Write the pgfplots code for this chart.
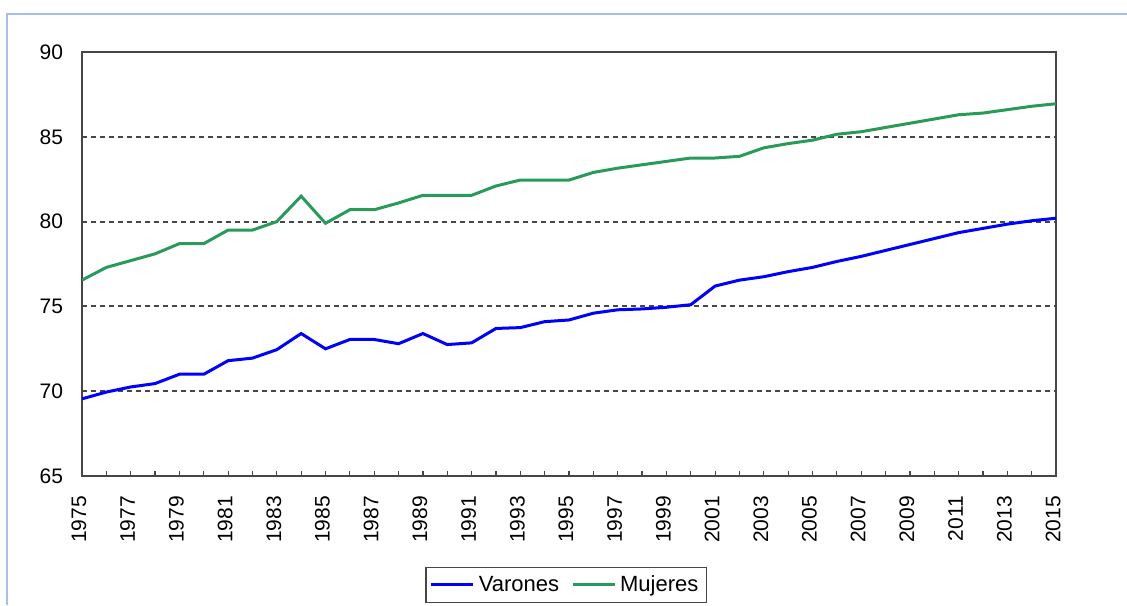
\documentclass[border=0pt]{standalone}
\usepackage{fontspec}
\setmainfont{Liberation Sans}
\usepackage{pgfplots}
\pgfplotsset{compat=1.18}
\definecolor{frameblue}{RGB}{165,192,238}
\definecolor{mgreen}{RGB}{40,155,90}
\definecolor{vblue}{RGB}{0,0,255}
\definecolor{axgray}{RGB}{70,70,70}
\pgfplotstableread{
year v
1975 69.55
1976 69.95
1977 70.25
1978 70.45
1979 71.0
1980 71.0
1981 71.8
1982 71.95
1983 72.45
1984 73.4
1985 72.5
1986 73.05
1987 73.05
1988 72.8
1989 73.4
1990 72.75
1991 72.85
1992 73.7
1993 73.75
1994 74.1
1995 74.2
1996 74.6
1997 74.8
1998 74.85
1999 74.95
2000 75.1
2001 76.2
2002 76.55
2003 76.75
2004 77.05
2005 77.3
2006 77.65
2007 77.95
2008 78.3
2009 78.65
2010 79.0
2011 79.35
2012 79.6
2013 79.85
2014 80.05
2015 80.2
}\varones
\pgfplotstableread{
year m
1975 76.55
1976 77.3
1977 77.7
1978 78.1
1979 78.7
1980 78.7
1981 79.5
1982 79.5
1983 80.0
1984 81.5
1985 79.9
1986 80.7
1987 80.7
1988 81.1
1989 81.55
1990 81.55
1991 81.55
1992 82.1
1993 82.45
1994 82.45
1995 82.45
1996 82.9
1997 83.15
1998 83.35
1999 83.55
2000 83.75
2001 83.75
2002 83.85
2003 84.35
2004 84.6
2005 84.8
2006 85.15
2007 85.3
2008 85.55
2009 85.8
2010 86.05
2011 86.3
2012 86.4
2013 86.6
2014 86.8
2015 86.95
}\mujeres
\begin{document}
\begin{tikzpicture}
\path[use as bounding box] (0,0) rectangle (563.5pt,-302.5pt);
\draw[frameblue, line width=0.75pt] (3.5pt,-302.5pt) -- (3.5pt,-7pt) -- (563.5pt,-7pt);
\begin{axis}[
  at={(41pt,-26pt)}, anchor=north west,
  scale only axis, width=487pt, height=212pt,
  xmin=1975, xmax=2015, ymin=65, ymax=90,
  xtick={1975,1977,...,2015},
  minor xtick={1976,1978,...,2014},
  ytick={65,70,...,90},
  ymajorgrids,
  grid style={axgray, line width=1pt, dash pattern=on 2.5pt off 2pt},
  axis line style={axgray, line width=1pt},
  tick align=inside,
  xtick pos=bottom,
  ytick pos=left,
  major tick length=2.5pt, minor tick length=2.5pt,
  xtick style={axgray, line width=0.6pt},
  ytick style={draw=none},
  /pgf/number format/assume math mode=true,
  /pgf/number format/set thousands separator={},
  x tick label style={rotate=90, anchor=east, font=\fontsize{10.5}{12}\selectfont, yshift=1.5pt, xshift=-6.5pt},
  y tick label style={anchor=east, font=\fontsize{10.5}{12}\selectfont, xshift=-6pt},
  legend columns=2,
  legend style={at={(0.497,-0.257)}, anchor=center, draw=axgray, line width=0.75pt,
    font=\fontsize{11}{13}\selectfont, inner xsep=2pt, inner ysep=2pt,
    /tikz/every even column/.append style={column sep=4pt}},
  legend image code/.code={\draw[#1] (0pt,0pt) -- (21pt,0pt);},
]
\addplot[vblue, line width=1.5pt] table[x=year, y=v] {\varones};
\addlegendentry{Varones}
\addplot[mgreen, line width=1.5pt] table[x=year, y=m] {\mujeres};
\addlegendentry{Mujeres}
\end{axis}
\end{tikzpicture}
\end{document}
